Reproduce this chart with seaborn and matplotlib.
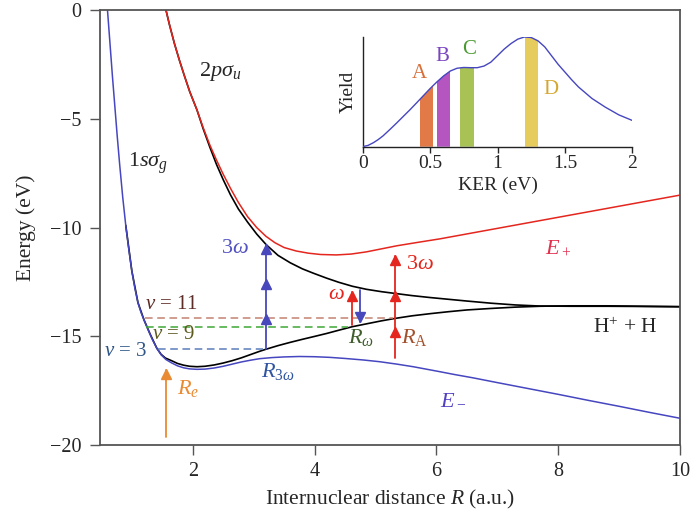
import numpy as np
import matplotlib
matplotlib.use("Agg")
import matplotlib.pyplot as plt
from matplotlib.patches import Polygon
import seaborn as sns

# potential curves (R in a.u., energy in eV)
r_minus = [0.60, 0.64, 0.68, 0.72, 0.76, 0.80, 0.85, 0.90, 0.95, 1.00, 1.05, 1.10, 1.15, 1.20,
           1.27, 1.34, 1.41, 1.48, 1.56, 1.65, 1.75, 1.85, 1.95, 2.07, 2.20, 2.35, 2.50, 2.65,
           2.80, 2.95, 3.10, 3.30, 3.50, 3.75, 4.00, 4.25, 4.50, 4.80, 5.07, 5.35, 5.62, 5.85,
           6.06, 6.30, 6.60, 7.00, 7.50, 8.00, 8.50, 9.00, 9.50, 10.0]
e_minus = [0.0, -1.5, -3.0, -4.4, -5.8, -7.1, -8.6, -9.9, -11.0, -12.0, -12.8, -13.45, -13.9, -14.25,
           -14.72, -15.17, -15.55, -15.85, -16.07, -16.22, -16.36, -16.45, -16.5, -16.52, -16.51, -16.46, -16.38, -16.28,
           -16.18, -16.1, -16.03, -15.98, -15.95, -15.93, -15.94, -15.97, -16.02, -16.09, -16.17, -16.28, -16.4, -16.52,
           -16.63, -16.76, -16.91, -17.13, -17.4, -17.67, -17.95, -18.22, -18.5, -18.77]

r_sg = [0.90, 1.00, 1.10, 1.20, 1.30, 1.41, 1.48, 1.55, 1.65, 1.75, 1.85, 1.95, 2.07, 2.20, 2.35,
        2.50, 2.65, 2.80, 2.95, 3.10, 3.21, 3.40, 3.60, 3.80, 3.98, 4.20, 4.40, 4.62, 4.85, 5.10,
        5.32, 5.60, 5.90, 6.20, 6.50, 6.90, 7.30, 7.70, 8.20, 8.80, 9.40, 10.0]
e_sg = [-9.9, -12.0, -13.45, -14.25, -14.9, -15.55, -15.83, -16.0, -16.12, -16.25, -16.33, -16.38, -16.4, -16.38, -16.32,
        -16.23, -16.12, -15.99, -15.84, -15.69, -15.59, -15.43, -15.28, -15.14, -15.02, -14.87, -14.72, -14.56, -14.43, -14.29,
        -14.18, -14.06, -13.96, -13.87, -13.79, -13.72, -13.66, -13.62, -13.6, -13.6, -13.62, -13.64]

r_pu = [1.56, 1.62, 1.70, 1.78, 1.86, 1.95, 2.07, 2.17, 2.28, 2.39, 2.50, 2.62, 2.75, 2.90, 3.05,
        3.21, 3.40, 3.60, 3.80, 3.98, 4.20, 4.40, 4.62, 4.85, 5.10, 5.32, 5.60, 5.90, 6.20, 6.50,
        6.90, 7.30, 7.70, 8.20, 8.80, 9.40, 10.0]
e_pu = [0.0, -0.7, -1.55, -2.3, -3.0, -3.75, -4.6, -5.45, -6.3, -7.1, -7.8, -8.5, -9.15, -9.75, -10.3,
        -10.8, -11.28, -11.62, -11.9, -12.1, -12.33, -12.52, -12.7, -12.84, -12.95, -13.03, -13.13, -13.22, -13.3, -13.38,
        -13.48, -13.56, -13.61, -13.62, -13.62, -13.63, -13.64]

r_plus = [1.56, 1.62, 1.70, 1.78, 1.86, 1.95, 2.07, 2.17, 2.28, 2.39, 2.50, 2.62, 2.75, 2.90, 3.05,
          3.20, 3.35, 3.50, 3.70, 3.90, 4.10, 4.36, 4.60, 4.85, 5.10, 5.35, 5.70, 6.06, 7.00, 8.00,
          9.00, 10.0]
e_plus = [0.0, -0.7, -1.55, -2.3, -3.0, -3.75, -4.6, -5.4, -6.2, -6.9, -7.55, -8.2, -8.85, -9.5, -10.0,
          -10.4, -10.7, -10.92, -11.08, -11.18, -11.24, -11.26, -11.22, -11.12, -10.98, -10.84, -10.68, -10.52, -10.04, -9.53,
          -9.02, -8.51]

# vibrational levels: energy, R start, R end
v_names = [r"$\nu$ = 11", r"$\nu$ = 9", r"$\nu$ = 3"]
v_energy = [-14.18, -14.59, -15.59]
v_start = [1.21, 1.24, 1.43]
v_end = [5.29, 4.55, 3.16]

# KER spectrum of the inset
ker = [0.0, 0.04, 0.08, 0.115, 0.15, 0.20, 0.25, 0.30, 0.35, 0.40, 0.45, 0.50, 0.55, 0.60, 0.65,
       0.70, 0.75, 0.80, 0.85, 0.90, 0.95, 1.00, 1.05, 1.10, 1.15, 1.20, 1.25, 1.30, 1.35, 1.40,
       1.45, 1.50, 1.55, 1.60, 1.70, 1.80, 1.90, 2.00]
yld = [0.0, 0.012, 0.037, 0.065, 0.098, 0.155, 0.214, 0.275, 0.336, 0.40, 0.465, 0.53, 0.59, 0.645, 0.69,
       0.715, 0.722, 0.72, 0.72, 0.735, 0.77, 0.83, 0.89, 0.94, 0.98, 1.0, 0.995, 0.965, 0.91, 0.83,
       0.75, 0.68, 0.61, 0.545, 0.44, 0.36, 0.29, 0.239]
band_names = ["A", "B", "C", "D"]
band_lo = [0.425, 0.551, 0.722, 1.201]
band_hi = [0.519, 0.648, 0.826, 1.300]

sns.set_style("ticks")
plt.rcParams["font.family"] = ["Liberation Serif", "DejaVu Serif"]
plt.rcParams["mathtext.fontset"] = "custom"
plt.rcParams["mathtext.rm"] = "Liberation Serif"
plt.rcParams["mathtext.it"] = "Liberation Serif:italic"
plt.rcParams["mathtext.bf"] = "Liberation Serif:bold"

blue = "#4646c0"
red = "#e4261e"
orange = "#e98a34"
gray = "#555555"

fig = plt.figure(figsize=(6.9, 5.2), dpi=100)
ax = fig.add_axes([0.1443, 0.1442, 0.8412, 0.8365])

sns.lineplot(x=r_sg, y=e_sg, ax=ax, color="black", lw=1.2, estimator=None, sort=False)
sns.lineplot(x=r_pu, y=e_pu, ax=ax, color="black", lw=1.2, estimator=None, sort=False)
sns.lineplot(x=r_minus, y=e_minus, ax=ax, color=blue, lw=1.1, estimator=None, sort=False)
sns.lineplot(x=r_plus, y=e_plus, ax=ax, color=red, lw=1.1, estimator=None, sort=False)

v_line_colors = ["#c48272", "#3fa535", "#5a7cba"]
v_text_colors = ["#5e2c26", "#5c5a1e", "#2f5686"]
v_text_pos = [(1.65, -13.56), (1.68, -14.92), (0.89, -15.71)]
for name, e0, r0, r1, lc, tc, pos in zip(v_names, v_energy, v_start, v_end,
                                          v_line_colors, v_text_colors, v_text_pos):
    ax.plot([r0, r1], [e0, e0], ls=(0, (5, 3)), color=lc, lw=1.1)
    ax.text(pos[0], pos[1], name, color=tc, fontsize=15, ha="center", va="center")


def arrow(x, base, tips, color, down=False):
    top = tips[-1]
    ax.plot([x, x], [base, top], color=color, lw=1.3)
    off = 0.2 if down else -0.2
    ax.plot([x] * len(tips), [t + off for t in tips], ls="none",
            marker="v" if down else "^", ms=7, color=color, mec=color)


arrow(3.21, -15.59, [-14.02, -12.41, -10.8], "#4848bc")
arrow(4.62, -14.50, [-12.95], red)
arrow(4.75, -12.87, [-14.33], "#4848bc", down=True)
arrow(5.32, -16.02, [-14.62, -12.95, -11.3], red)
arrow(1.56, -19.62, [-16.55], orange)

fs = 16
ax.text(2.45, -2.83, r"$2p\sigma_u$", fontsize=fs, ha="center", va="center")
ax.text(1.27, -7.05, r"$1s\sigma_g$", fontsize=fs, ha="center", va="center")
ax.text(2.69, -10.96, r"$3\omega$", fontsize=fs, color="#5252c4", ha="center", va="center")
ax.text(3.40, -16.6, r"$R_{3\omega}$", fontsize=fs, color="#2f54a2", ha="center", va="center")
ax.text(1.92, -17.4, r"$R_e$", fontsize=fs, color=orange, ha="center", va="center")
ax.text(4.35, -13.1, r"$\omega$", fontsize=fs, color=red, ha="center", va="center")
ax.text(4.76, -15.05, r"$R_\omega$", fontsize=fs, color="#3f5e2c", ha="center", va="center")
ax.text(5.73, -11.72, r"$3\omega$", fontsize=fs, color=red, ha="center", va="center")
ax.text(5.64, -15.05, r"$R_\mathrm{A}$", fontsize=fs, color="#a3502c", ha="center", va="center")
ax.text(8.0, -10.96, r"$E_+$", fontsize=fs, color="#e2304e", ha="center", va="center")
ax.text(6.28, -17.93, r"$E_-$", fontsize=fs, color="#5040c2", ha="center", va="center")
ax.text(9.1, -14.64, r"H$^{+}$ + H", fontsize=15.5, ha="center", va="center")

ax.set_xlim(0.47, 10)
ax.set_ylim(-20, 0)
ax.set_xticks([2, 4, 6, 8, 10])
ax.set_yticks([0, -5, -10, -15, -20])
ax.set_yticklabels(["0", "\u22125", "\u221210", "\u221215", "\u221220"])
ax.set_xlabel(r"Internuclear distance $R$ (a.u.)", fontsize=15.5, labelpad=5)
ax.set_ylabel("Energy (eV)", fontsize=15.5, labelpad=10)
ax.tick_params(direction="out", length=7, width=1, color=gray, labelsize=14.5, pad=6)
ax.tick_params(axis="x", pad=5)
for s in ax.spines.values():
    s.set_color(gray)
    s.set_linewidth(1.3)

# inset: KER spectrum
ins = fig.add_axes([0.5257, 0.7179, 0.3907, 0.211])
sns.lineplot(x=ker, y=yld, ax=ins, color=blue, lw=1.0, estimator=None, sort=False, zorder=3)
under = Polygon(list(zip(ker, yld)) + [(2.0, 0.0), (0.0, 0.0)], closed=True,
                transform=ins.transData, facecolor="none", edgecolor="none")
ins.add_patch(under)
band_colors = ["#e27a48", "#b455c0", "#a8c256", "#e6cc5c"]
label_colors = ["#d8703a", "#7a45c0", "#4a9a30", "#d4a830"]
label_pos = [(0.418, 0.667), (0.593, 0.826), (0.789, 0.887), (1.394, 0.52)]
for name, lo, hi, bc, lc, pos in zip(band_names, band_lo, band_hi, band_colors, label_colors, label_pos):
    span = ins.axvspan(lo, hi, color=bc, lw=0, zorder=2)
    span.set_clip_path(under)
    ins.text(pos[0], pos[1], name, color=lc, fontsize=15, ha="center", va="center")

ins.set_xlim(0, 2)
ins.set_ylim(0, 1.0)
ins.set_xticks([0, 0.5, 1, 1.5, 2])
ins.set_xticklabels(["0", "0.5", "1", "1.5", "2"])
ins.set_yticks([])
ins.set_xlabel("KER (eV)", fontsize=14, labelpad=3)
ins.set_ylabel("Yield", fontsize=14, labelpad=4)
ins.tick_params(direction="out", length=4, width=1, labelsize=14, pad=2)
ins.patch.set_alpha(0)
for side in ["top", "right"]:
    ins.spines[side].set_visible(False)
for side in ["left", "bottom"]:
    ins.spines[side].set_color("#222222")
    ins.spines[side].set_linewidth(1.0)

fig.savefig("out.png", dpi=100)
